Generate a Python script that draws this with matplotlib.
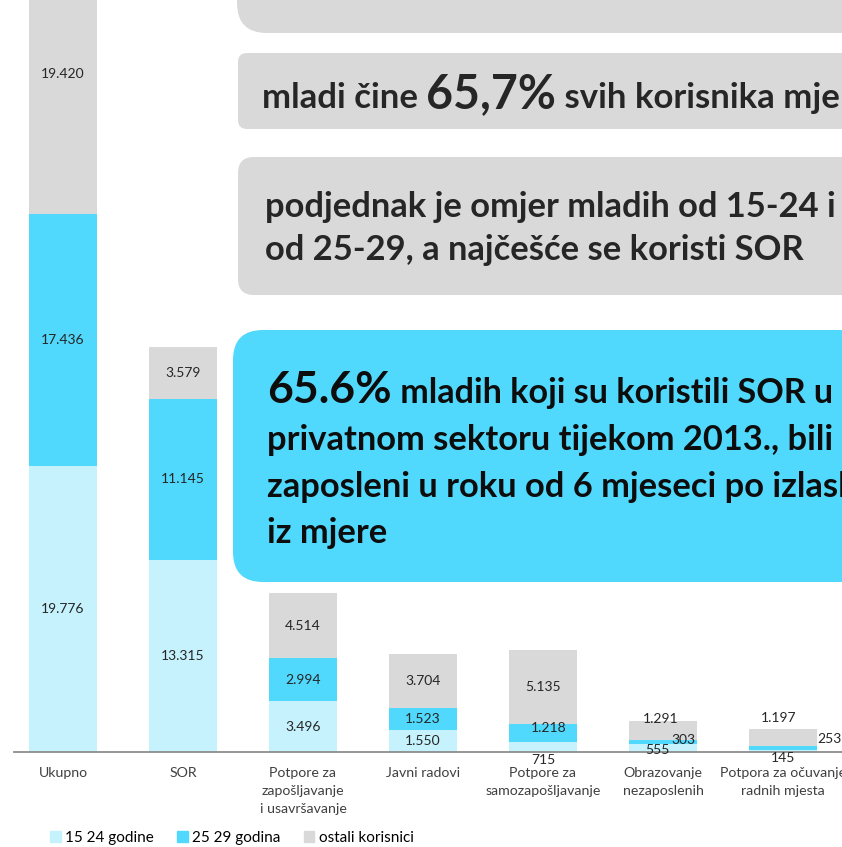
import matplotlib
matplotlib.use("Agg")
import matplotlib.pyplot as plt
from matplotlib.patches import FancyBboxPatch, Patch
import numpy as np

categories = [
    "Ukupno",
    "SOR",
    "Potpore za\nzapošljavanje\ni usavršavanje",
    "Javni radovi",
    "Potpore za\nsamozapošljavanje",
    "Obrazovanje\nnezaposlenih",
    "Potpora za očuvanje\nradnih mjesta",
]
mladi_15_24 = [19776, 13315, 3496, 1550, 715, 555, 145]
mladi_25_29 = [17436, 11145, 2994, 1523, 1218, 303, 253]
ostali = [19420, 3579, 4514, 3704, 5135, 1291, 1197]
series_names = ["15 24 godine", "25 29 godina", "ostali korisnici"]

C_LIGHT = "#C6F2FD"
C_BLUE = "#50D9FC"
C_GRAY = "#D9D9D9"
FONT = "Lato"

# label nudges in pixels for the small segments (category, series) -> (dx, dy)
nudges = {
    (4, 0): (0, -13), (4, 1): (6, 5),
    (5, 0): (-6, -2), (5, 1): (20, 2), (5, 2): (-2, 11),
    (6, 0): (0, -7), (6, 1): (46, 9), (6, 2): (-4, 20),
}


def fmt(v):
    return f"{v:,}".replace(",", ".")


W, H = 842, 847
fig = plt.figure(figsize=(W / 100, H / 100), dpi=100)
ax = fig.add_axes([14 / W, (H - 752) / H, (W - 14) / W, 752 / H])

x = np.arange(len(categories))
width = 0.567
series = [mladi_15_24, mladi_25_29, ostali]
colors = [C_LIGHT, C_BLUE, C_GRAY]
bottom = np.zeros(len(categories))
for si, (vals, col) in enumerate(zip(series, colors)):
    vals = np.array(vals, dtype=float)
    ax.bar(x, vals, width, bottom=bottom, color=col, edgecolor="none", zorder=2)
    for ci in range(len(categories)):
        dx, dy = nudges.get((ci, si), (0, 0))
        ax.annotate(fmt(int(vals[ci])), (x[ci], bottom[ci] + vals[ci] / 2),
                    xytext=(dx, dy), textcoords="offset pixels",
                    ha="center", va="center", fontsize=10, family=FONT,
                    color="#262626", zorder=3)
    bottom += vals

ax.set_xlim(-0.408, 6.492)
ax.set_ylim(0, 52040)
for s in ["top", "right", "left"]:
    ax.spines[s].set_visible(False)
ax.spines["bottom"].set_color("#8C8C8C")
ax.spines["bottom"].set_linewidth(1.3)
ax.set_yticks([])
ax.set_xticks(x)
ax.set_xticklabels(categories, fontsize=10.2, family=FONT, color="#404040",
                   linespacing=1.6)
ax.tick_params(axis="x", length=0, pad=11)

handles = [Patch(color=c) for c in colors]
fig.legend(handles, series_names, loc="center left",
           bbox_to_anchor=(44 / W, 1 - 838 / H), ncol=3, frameon=False,
           prop={"family": FONT, "size": 11}, handlelength=0.7, handleheight=0.7,
           handletextpad=0.3, columnspacing=1.5, borderaxespad=0)

# overlay in pixel coordinates for the callout boxes
ov = fig.add_axes([0, 0, 1, 1], zorder=5)
ov.set_xlim(0, W)
ov.set_ylim(H, 0)
ov.axis("off")
ov.patch.set_alpha(0)

boxes = [
    (237, -80, 700, 113, 30, C_GRAY),
    (238, 53, 700, 76, 9, C_GRAY),
    (238, 157, 700, 138, 16, C_GRAY),
    (233, 330, 700, 252, 30, C_BLUE),
]
for bx, by, bw, bh, r, col in boxes:
    ov.add_patch(FancyBboxPatch((bx, by), bw, bh,
                                boxstyle=f"round,pad=0,rounding_size={r}",
                                fc=col, ec="none"))

renderer = fig.canvas.get_renderer()


def run_text(x0, y0, parts, color):
    cur = x0
    for txt, size in parts:
        t = ov.text(cur, y0, txt, fontsize=size, family=FONT, weight="bold",
                    color=color, ha="left", va="baseline")
        cur += t.get_window_extent(renderer).width


run_text(262, 108, [("mladi čine ", 25), ("65,7%", 33.5), (" svih korisnika mjera", 25)], "#262626")
run_text(265, 217, [("podjednak je omjer mladih od 15-24 i", 24.8)], "#262626")
run_text(265, 260, [("od 25-29, a najčešće se koristi SOR", 24.8)], "#262626")
run_text(267, 403, [("65.6%", 32), (" mladih koji su koristili SOR u", 24.6)], "#0D0D0D")
run_text(267, 450, [("privatnom sektoru tijekom 2013., bili", 24.8)], "#0D0D0D")
run_text(267, 497, [("zaposleni u roku od 6 mjeseci po izlasku", 24.8)], "#0D0D0D")
run_text(267, 543, [("iz mjere", 24.8)], "#0D0D0D")

fig.savefig("out.png", dpi=100)
